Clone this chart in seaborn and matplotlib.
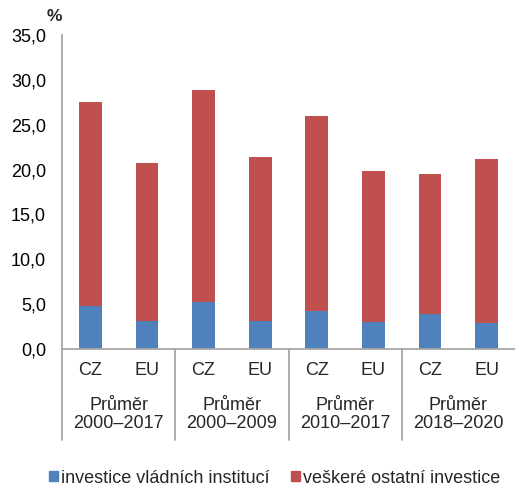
import numpy as np
import pandas as pd
import matplotlib
matplotlib.use("Agg")
import matplotlib.pyplot as plt
import matplotlib.transforms as mtransforms
from matplotlib.patches import Patch
import seaborn as sns

# data
periods = ["Průměr\n2000–2017", "Průměr\n2000–2009", "Průměr\n2010–2017", "Průměr\n2018–2020"]
regions = ["CZ", "EU"]
vladni = [4.8, 3.1, 5.2, 3.1, 4.2, 3.0, 3.9, 2.9]
celkem = [27.5, 20.7, 28.9, 21.4, 26.0, 19.8, 19.5, 21.2]
series_names = ["investice vládních institucí", "veškeré ostatní investice"]

blue = "#4F81BD"
red = "#C0504D"
grey = "#A6A6A6"

sns.set_theme(style="white")
plt.rcParams["font.family"] = ["Liberation Sans", "DejaVu Sans"]
fs = 13

keys = [f"{p}|{r}" for p in periods for r in regions]
df = pd.DataFrame({"key": keys, "vladni": vladni, "celkem": celkem})

fig = plt.figure(figsize=(5.15, 4.9), dpi=100)
ax = fig.add_axes([0.1204, 0.2878, 0.8796, 0.6408])

sns.barplot(data=df, x="key", y="celkem", order=keys, color=red, width=0.4,
            saturation=1, ax=ax, edgecolor="none")
sns.barplot(data=df, x="key", y="vladni", order=keys, color=blue, width=0.4,
            saturation=1, ax=ax, edgecolor="none")

ax.set_xlim(-0.5, len(keys) - 0.5)
ax.set_ylim(0, 35)
ax.set_yticks(np.arange(0, 35.1, 5))
ax.set_yticklabels([f"{v:.1f}".replace(".", ",") for v in np.arange(0, 35.1, 5)], fontsize=fs)
ax.tick_params(axis="y", length=0, pad=11.5, colors="black")
ax.set_xticks([])
ax.set_xlabel("")
ax.set_ylabel("")

for s in ["top", "right"]:
    ax.spines[s].set_visible(False)
for s in ["left", "bottom"]:
    ax.spines[s].set_color(grey)
    ax.spines[s].set_linewidth(1.3)

ax.text(-0.016, 1.035, "%", transform=ax.transAxes, fontsize=12.5, fontweight="bold",
        ha="center", va="bottom")

trans = mtransforms.blended_transform_factory(ax.transData, ax.transAxes)
# region labels
for i, k in enumerate(keys):
    ax.text(i, -0.067, k.split("|")[1], transform=trans, ha="center", va="center", fontsize=fs)
# period labels and separators
for j, p in enumerate(periods):
    ax.text(2 * j + 0.5, -0.209, p, transform=trans, ha="center", va="center",
            fontsize=fs, linespacing=1.05)
for b in [-0.5, 1.5, 3.5, 5.5]:
    ax.plot([b, b], [0, -0.29], transform=trans, color=grey, lw=1.3, clip_on=False)

handles = [Patch(color=blue, label=series_names[0]), Patch(color=red, label=series_names[1])]
fig.legend(handles=handles, loc="center", bbox_to_anchor=(0.533, 0.024), ncol=2,
           frameon=False, fontsize=fs, handlelength=0.5, handleheight=0.5,
           handletextpad=0.18, columnspacing=1.2, borderpad=0.2)

fig.savefig("out.png", dpi=100)
